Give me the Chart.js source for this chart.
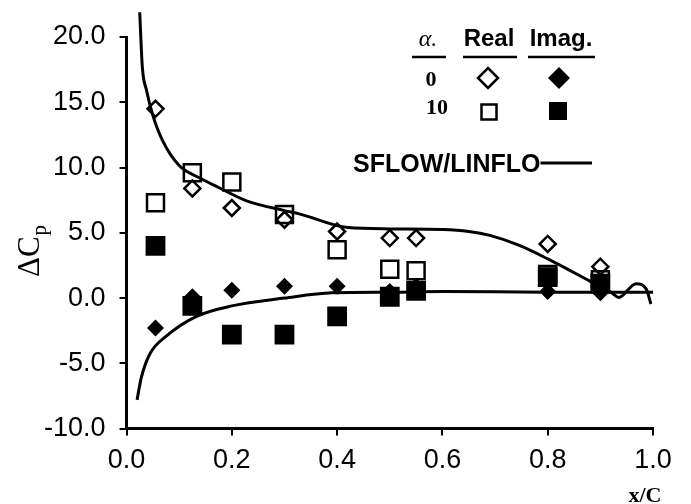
<!DOCTYPE html>
<html>
<head>
<meta charset="utf-8">
<script src="https://cdn.jsdelivr.net/npm/chart.js@4.4.1/dist/chart.umd.min.js"></script>
<style>
  html, body { margin: 0; padding: 0; background: #fff; }
  #wrap { width: 691px; height: 504px; position: relative; }
</style>
</head>
<body>
<div id="wrap"><canvas id="chart"></canvas></div>
<script>
// stations x/C where the measurements were taken
const stations = [0.055, 0.125, 0.2, 0.3, 0.4, 0.5, 0.55, 0.8, 0.9];

// measured values, alpha = 0 and alpha = 10
const realA0  = [14.5, 8.4, 6.9, 6.0, 5.1, 4.6, 4.6, 4.15, 2.4];
const imagA0  = [-2.3, 0.1, 0.6, 0.9, 0.9, 0.5, 0.9, 0.5, 0.4];
const realA10 = [7.3, 9.6, 8.9, 6.4, 3.7, 2.2, 2.1, 1.8, 1.4];
const imagA10 = [4.0, -0.6, -2.8, -2.8, -1.4, 0.1, 0.55, 1.6, 1.1];

// SFLOW/LINFLO prediction
const theoryRealX = [0.025, 0.03, 0.038, 0.05, 0.068, 0.1, 0.139, 0.176, 0.228, 0.3, 0.328, 0.42, 0.5, 0.6, 0.65, 0.69, 0.745, 0.8, 0.88, 0.922, 0.935, 0.968, 0.987, 0.996];
const theoryRealY = [21.9, 17.7, 15.9, 14.0, 12.1, 10.15, 9.2, 8.45, 7.45, 6.7, 6.45, 5.4, 5.3, 5.25, 5.1, 4.8, 4.05, 3.0, 1.3, 0.4, 0.05, 1.1, 0.7, -0.45];
const theoryImagX = [0.02, 0.028, 0.044, 0.076, 0.133, 0.2, 0.3, 0.39, 0.5, 0.6, 0.8, 0.9, 1.0];
const theoryImagY = [-7.8, -6.1, -4.3, -2.9, -1.4, -0.6, 0.0, 0.4, 0.45, 0.5, 0.45, 0.45, 0.45];

// tick labels
const xTicks = [0.0, 0.2, 0.4, 0.6, 0.8, 1.0];
const yTicks = [-10.0, -5.0, 0.0, 5.0, 10.0, 15.0, 20.0];

const pts = (xs, ys) => xs.map((x, i) => ({ x: x, y: ys[i] }));

// legend table and axis titles drawn on the canvas
const annotations = {
    id: 'annotations',
    afterDraw(chart) {
        const ctx = chart.ctx;
        ctx.save();
        ctx.fillStyle = '#000';
        ctx.strokeStyle = '#000';
        ctx.textAlign = 'center';
        ctx.textBaseline = 'alphabetic';

        // header
        ctx.font = 'italic 24px "Liberation Serif"';
        ctx.fillText('\u03B1.', 428, 46);
        ctx.font = 'bold 24px "Liberation Sans"';
        ctx.fillText('Real', 489, 46);
        ctx.fillText('Imag.', 561, 46);
        ctx.lineWidth = 2.5;
        [[412, 446], [463, 517], [528, 595]].forEach(([a, b]) => {
            ctx.beginPath(); ctx.moveTo(a, 57); ctx.lineTo(b, 57); ctx.stroke();
        });

        // rows
        ctx.font = 'bold 22px "Liberation Serif"';
        ctx.fillText('0', 431, 86);
        ctx.fillText('10', 437, 114);

        ctx.lineWidth = 2.5;
        // open diamond
        ctx.beginPath();
        ctx.moveTo(488, 68); ctx.lineTo(498, 78); ctx.lineTo(488, 88); ctx.lineTo(478, 78); ctx.closePath();
        ctx.stroke();
        // filled diamond
        ctx.beginPath();
        ctx.moveTo(559, 67); ctx.lineTo(570, 78); ctx.lineTo(559, 89); ctx.lineTo(548, 78); ctx.closePath();
        ctx.fill();
        // open square
        ctx.strokeRect(481.5, 104.5, 15, 15);
        // filled square
        ctx.fillRect(549, 102, 18, 18);

        // SFLOW/LINFLO key
        ctx.textAlign = 'left';
        ctx.font = 'bold 25px "Liberation Sans"';
        ctx.fillText('SFLOW/LINFLO', 353, 172);
        const w = ctx.measureText('SFLOW/LINFLO').width;
        ctx.lineWidth = 3;
        ctx.beginPath(); ctx.moveTo(353 + w, 163); ctx.lineTo(592, 163); ctx.stroke();

        // x axis title
        ctx.textAlign = 'center';
        ctx.font = 'bold 22px "Liberation Serif"';
        ctx.fillText('x/C', 645, 502);

        // y axis title, rotated, with subscript
        ctx.translate(39, 277);
        ctx.rotate(-Math.PI / 2);
        ctx.textAlign = 'left';
        ctx.font = '31px "Liberation Serif"';
        ctx.fillText('\u0394C', 0, 0);
        const cw = ctx.measureText('\u0394C').width;
        ctx.font = '21px "Liberation Serif"';
        ctx.fillText('p', cw + 1, 7);
        ctx.restore();
    }
};

const tickFont = { family: '"Liberation Sans", Arial, sans-serif', size: 27 };

new Chart(document.getElementById('chart'), {
    type: 'scatter',
    data: {
        datasets: [
            {
                label: 'Imag. alpha 0',
                data: pts(stations, imagA0),
                pointStyle: 'rectRot',
                pointRadius: 8.5,
                backgroundColor: '#000',
                borderColor: '#000',
                borderWidth: 0
            },
            {
                label: 'Imag. alpha 10',
                data: pts(stations, imagA10),
                pointStyle: 'rect',
                pointRadius: 14,
                backgroundColor: '#000',
                borderColor: '#000',
                borderWidth: 0
            },
            {
                label: 'Real alpha 0',
                data: pts(stations, realA0),
                pointStyle: 'rectRot',
                pointRadius: 8,
                backgroundColor: 'rgba(0,0,0,0)',
                borderColor: '#000',
                borderWidth: 2.5
            },
            {
                label: 'Real alpha 10',
                data: pts(stations, realA10),
                pointStyle: 'rect',
                pointRadius: 12,
                backgroundColor: 'rgba(0,0,0,0)',
                borderColor: '#000',
                borderWidth: 2.5
            },
            {
                label: 'SFLOW/LINFLO real',
                data: pts(theoryRealX, theoryRealY),
                showLine: true,
                pointRadius: 0,
                borderColor: '#000',
                borderWidth: 3,
                cubicInterpolationMode: 'monotone',
                clip: false
            },
            {
                label: 'SFLOW/LINFLO imag',
                data: pts(theoryImagX, theoryImagY),
                showLine: true,
                pointRadius: 0,
                borderColor: '#000',
                borderWidth: 3,
                cubicInterpolationMode: 'monotone',
                clip: false
            }
        ]
    },
    options: {
        responsive: true,
        maintainAspectRatio: false,
        animation: false,
        events: [],
        layout: { padding: { left: 30, right: 38, top: 37, bottom: 18 } },
        plugins: {
            legend: { display: false },
            tooltip: { enabled: false }
        },
        scales: {
            x: {
                type: 'linear',
                min: 0,
                max: 1,
                afterBuildTicks: (axis) => { axis.ticks = xTicks.map(v => ({ value: v })); },
                ticks: {
                    color: '#000',
                    font: tickFont,
                    padding: 9,
                    callback: (v) => Number(v).toFixed(1)
                },
                grid: { drawOnChartArea: false, color: '#000', lineWidth: 2, tickLength: 7 },
                border: { display: true, color: '#000', width: 3 }
            },
            y: {
                type: 'linear',
                min: -10,
                max: 20,
                afterBuildTicks: (axis) => { axis.ticks = yTicks.map(v => ({ value: v })); },
                ticks: {
                    color: '#000',
                    font: tickFont,
                    padding: 14,
                    callback: (v) => Number(v).toFixed(1)
                },
                grid: { drawOnChartArea: false, color: '#000', lineWidth: 2, tickLength: 7 },
                border: { display: true, color: '#000', width: 3 }
            }
        }
    },
    plugins: [annotations]
});
</script>
</body>
</html>
